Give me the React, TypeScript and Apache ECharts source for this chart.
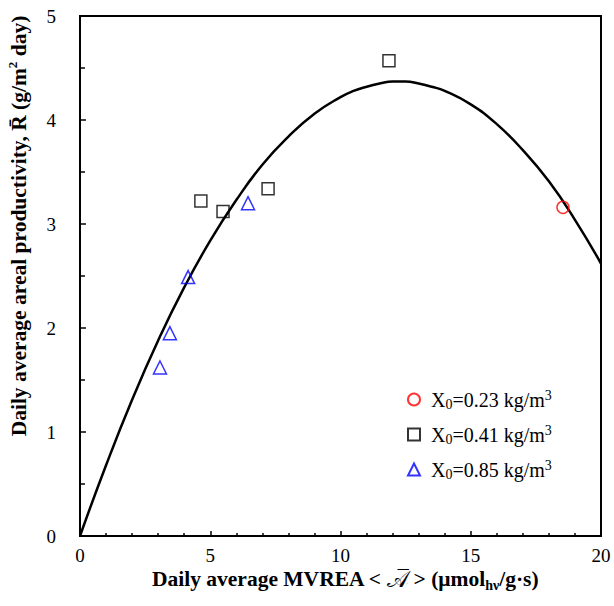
import React, { useEffect, useRef } from "react";
import * as echarts from "echarts";

const xTicks = [0, 5, 10, 15, 20];
const yTicks = [0, 1, 2, 3, 4, 5];

const seriesNames = ["X0=0.23", "X0=0.41", "X0=0.85"];
const legendLabels = ["0.23", "0.41", "0.85"];

const s023X = [18.54];
const s023Y = [3.16];

const s041X = [4.64, 5.49, 7.22, 11.86];
const s041Y = [3.22, 3.12, 3.34, 4.57];

const s085X = [3.07, 3.45, 4.15, 6.45];
const s085Y = [1.62, 1.95, 2.49, 3.2];

const curveX = [0, 1, 2, 3, 4, 5, 6, 7, 8, 9, 10, 10.5, 11, 11.5, 12, 12.5, 13, 13.5, 14, 15, 16, 17, 18, 19, 20];
const curveY = [0, 0.68, 1.31, 1.88, 2.39, 2.84, 3.23, 3.57, 3.84, 4.06, 4.22, 4.28, 4.32, 4.35, 4.37, 4.37, 4.35, 4.32, 4.28, 4.15, 3.96, 3.71, 3.41, 3.04, 2.62];

const FONT = "'Liberation Serif', 'Times New Roman', 'DejaVu Serif', serif";

const pairs = (xs: number[], ys: number[]) => xs.map((x, i) => [x, ys[i]]);

export default function App() {
  const ref = useRef<HTMLDivElement>(null);
  useEffect(() => {
    if (!ref.current) return;
    const chart = echarts.init(ref.current, null, { renderer: "svg" });
    const hollow = (color: string) => ({
      color: "rgba(255,255,255,0)",
      borderColor: color,
      borderWidth: 1.5,
    });
    chart.setOption({
      animation: false,
      backgroundColor: "#fff",
      grid: {
        left: 80,
        top: 16,
        right: 13,
        bottom: 70,
        show: true,
        borderColor: "#000",
        borderWidth: 2,
      },
      xAxis: {
        type: "value",
        min: xTicks[0],
        max: xTicks[xTicks.length - 1],
        interval: 5,
        axisLine: { show: true, lineStyle: { color: "#000", width: 2 } },
        axisTick: { show: true, inside: true, length: 5, lineStyle: { color: "#000", width: 1.5 } },
        minorTick: { show: true, splitNumber: 5, length: 3, lineStyle: { color: "#000", width: 1.5 } },
        splitLine: { show: false },
        axisLabel: { color: "#000", fontFamily: FONT, fontSize: 19, margin: 10 },
      },
      yAxis: {
        type: "value",
        min: yTicks[0],
        max: yTicks[yTicks.length - 1],
        interval: 1,
        axisLine: { show: true, lineStyle: { color: "#000", width: 2 } },
        axisTick: { show: true, inside: true, length: 6, lineStyle: { color: "#000", width: 1.5 } },
        minorTick: { show: true, splitNumber: 2, length: 5, lineStyle: { color: "#000", width: 1.5 } },
        splitLine: { show: false },
        axisLabel: { color: "#000", fontFamily: FONT, fontSize: 19, margin: 24 },
      },
      legend: {
        orient: "vertical",
        left: 402,
        top: 383,
        itemWidth: 12,
        itemHeight: 12,
        itemGap: 12,
        data: seriesNames,
        formatter: (name: string) => {
          const i = seriesNames.indexOf(name);
          return "{t|X}{sub|0}{t|=" + legendLabels[i] + " kg/m}{sup|3}";
        },
        textStyle: {
          color: "#000",
          fontFamily: FONT,
          fontSize: 20,
          padding: [0, 0, 0, 6],
          rich: {
            t: { fontFamily: FONT, fontSize: 20, color: "#000", lineHeight: 23 },
            sub: { fontFamily: FONT, fontSize: 14, color: "#000", verticalAlign: "bottom", lineHeight: 23, padding: [8, 0, 0, 0] },
            sup: { fontFamily: FONT, fontSize: 14, color: "#000", verticalAlign: "top", lineHeight: 23, padding: [0, 0, 8, 0] },
          },
        },
      },
      graphic: [
        {
          type: "text",
          x: 19,
          y: 226,
          rotation: Math.PI / 2,
          style: {
            text: "{b|Daily average areal productivity, R\u0304 (g/m}{s|2}{b| day)}",
            align: "center",
            verticalAlign: "middle",
            rich: {
              b: { fontFamily: FONT, fontSize: 21.5, fontWeight: "bold", fill: "#000", lineHeight: 26 },
              s: { fontFamily: FONT, fontSize: 13, fontWeight: "bold", fill: "#000", verticalAlign: "top", lineHeight: 26, padding: [0, 0, 8, 0] },
            },
          },
        },
        {
          type: "text",
          x: 345,
          y: 579,
          style: {
            text: "{b|Daily average MVREA <}{a|\uD835\uDC9C\u0305}{b|> (\u03BCmol}{s|h\u03BD}{b|/g\u00B7s)}",
            align: "center",
            verticalAlign: "middle",
            rich: {
              b: { fontFamily: FONT, fontSize: 21.5, fontWeight: "bold", fill: "#000", lineHeight: 26 },
              a: { fontFamily: "'DejaVu Serif', 'DejaVu Sans', serif", fontSize: 23, fill: "#000", lineHeight: 26, padding: [0, 5, 0, 5] },
              s: { fontFamily: FONT, fontSize: 14, fontWeight: "bold", fill: "#000", verticalAlign: "bottom", lineHeight: 26, padding: [8, 0, 0, 0] },
            },
          },
        },
      ],
      series: [
        {
          name: "fit",
          type: "line",
          data: pairs(curveX, curveY),
          smooth: true,
          showSymbol: false,
          symbol: "none",
          lineStyle: { color: "#000", width: 2.5 },
          z: 1,
        },
        {
          name: seriesNames[0],
          type: "scatter",
          symbol: "circle",
          symbolSize: 12,
          data: pairs(s023X, s023Y),
          itemStyle: hollow("#ff0000"),
          z: 3,
        },
        {
          name: seriesNames[1],
          type: "scatter",
          symbol: "rect",
          symbolSize: 12,
          data: pairs(s041X, s041Y),
          itemStyle: hollow("#000000"),
          z: 3,
        },
        {
          name: seriesNames[2],
          type: "scatter",
          symbol: "triangle",
          symbolSize: 13,
          data: pairs(s085X, s085Y),
          itemStyle: hollow("#0000ff"),
          z: 3,
        },
      ],
    });
    return () => chart.dispose();
  }, []);
  return <div ref={ref} style={{ width: 614, height: 606, position: "absolute", left: 0, top: 0 }} />;
}
